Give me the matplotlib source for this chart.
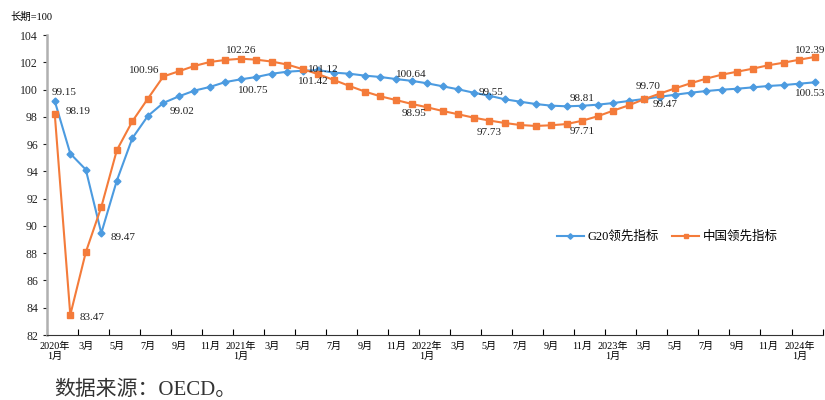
import matplotlib
matplotlib.use('Agg')
import matplotlib.pyplot as plt
import numpy as np

plt.rcParams['font.family'] = ['Liberation Serif', 'Noto Sans CJK SC', 'DejaVu Sans']

# monthly, 2020-01 .. 2024-02
years = ['2020年', '2021年', '2022年', '2023年', '2024年']
g20 = [99.15, 95.30, 94.13, 89.47, 93.32, 96.43, 98.06, 99.02, 99.50, 99.92,
       100.19, 100.55, 100.75, 100.92, 101.16, 101.31, 101.38, 101.42, 101.24, 101.16,
       101.02, 100.92, 100.77, 100.64, 100.46, 100.24, 100.02, 99.77, 99.55, 99.29,
       99.11, 98.94, 98.82, 98.77, 98.81, 98.89, 99.01, 99.16, 99.31, 99.47,
       99.62, 99.77, 99.89, 99.99, 100.06, 100.16, 100.26, 100.33, 100.43, 100.53]
china = [98.19, 83.47, 88.07, 91.39, 95.55, 97.67, 99.33, 100.96, 101.34, 101.73,
         102.02, 102.17, 102.26, 102.19, 102.05, 101.83, 101.49, 101.12, 100.70, 100.26,
         99.85, 99.50, 99.23, 98.95, 98.70, 98.43, 98.19, 97.94, 97.73, 97.55,
         97.40, 97.33, 97.38, 97.47, 97.71, 98.04, 98.45, 98.84, 99.29, 99.70,
         100.09, 100.46, 100.80, 101.09, 101.31, 101.53, 101.78, 101.97, 102.19, 102.39]

# labelled points: (index, dx, dy, ha)
g20_labels = [(0, -3, 9, 'left'), (3, 9, -4, 'left'), (7, 6, -9, 'left'),
              (12, -3, -11, 'left'), (17, -20, -11, 'left'), (23, 0, 6, 'center'),
              (28, 2, 3, 'center'), (34, 0, 7, 'center'), (39, 5, -8, 'center'),
              (49, -20, -11, 'left')]
china_labels = [(0, 11, 3, 'left'), (1, 9, -3, 'left'), (7, -4, 6, 'right'),
                (12, 0, 8, 'center'), (17, 5, 5, 'center'), (23, 2, -10, 'center'),
                (28, 0, -12, 'center'), (34, 0, -11, 'center'), (39, -12, 7, 'center'),
                (49, -20, 6, 'left')]

x = np.arange(len(g20))
blue = '#4C9BE0'
orange = '#F47B3A'

fig = plt.figure(figsize=(8.25, 4), dpi=100)
ax = fig.add_axes([0.057, 0.1625, 0.94, 0.75])

ax.plot(x, g20, color=blue, marker='D', markersize=3.5, lw=1.5, label='G20领先指标')
ax.plot(x, china, color=orange, marker='s', markersize=3.8, lw=1.5, label='中国领先指标')

for i, dx, dy, ha in g20_labels:
    ax.annotate(f'{g20[i]:.2f}', (x[i], g20[i]), xytext=(dx, dy), textcoords='offset pixels',
                ha=ha, va='center', fontsize=8, color='#222222', annotation_clip=False)
for i, dx, dy, ha in china_labels:
    ax.annotate(f'{china[i]:.2f}', (x[i], china[i]), xytext=(dx, dy), textcoords='offset pixels',
                ha=ha, va='center', fontsize=8, color='#222222', annotation_clip=False)

ax.set_xlim(-0.5, len(x) - 0.5)
ax.set_ylim(82, 104)
ax.set_yticks(np.arange(82, 105, 2))
ax.tick_params(axis='y', labelsize=8.5, length=3, direction='out', colors='#222222')

# boundaries as major ticks, labels on odd months as minor
ax.set_xticks(np.arange(-0.5, len(x), 2))
ax.set_xticklabels([])
ax.tick_params(axis='x', which='major', direction='in', length=4)
labels = []
for k in range(0, len(x), 2):
    m = k % 12 + 1
    if m == 1:
        labels.append(f'{years[k // 12]}\n{m}月')
    else:
        labels.append(f'{m}月')
ax.set_xticks(np.arange(0, len(x), 2), minor=True)
ax.set_xticklabels(labels, minor=True, fontsize=7.3, linespacing=1.15)
ax.tick_params(axis='x', which='minor', length=0, pad=5)

for s in ['top', 'right']:
    ax.spines[s].set_visible(False)
ax.spines['left'].set_color('#B0B0B0')
ax.spines['left'].set_linewidth(1.8)
ax.spines['bottom'].set_color('#333333')

ax.legend(loc='center', bbox_to_anchor=(0.8, 0.327), ncol=2, frameon=False, fontsize=9,
          handlelength=2.2, columnspacing=1.0, handletextpad=0.3, markerscale=0.8)

fig.text(0.012, 0.957, '长期=100', fontsize=7.5, va='center', ha='left')
fig.text(0.066, 0.048, '数据来源：OECD。', fontsize=15, va='top', ha='left', color='#333333')

plt.savefig('out.png', dpi=100)
